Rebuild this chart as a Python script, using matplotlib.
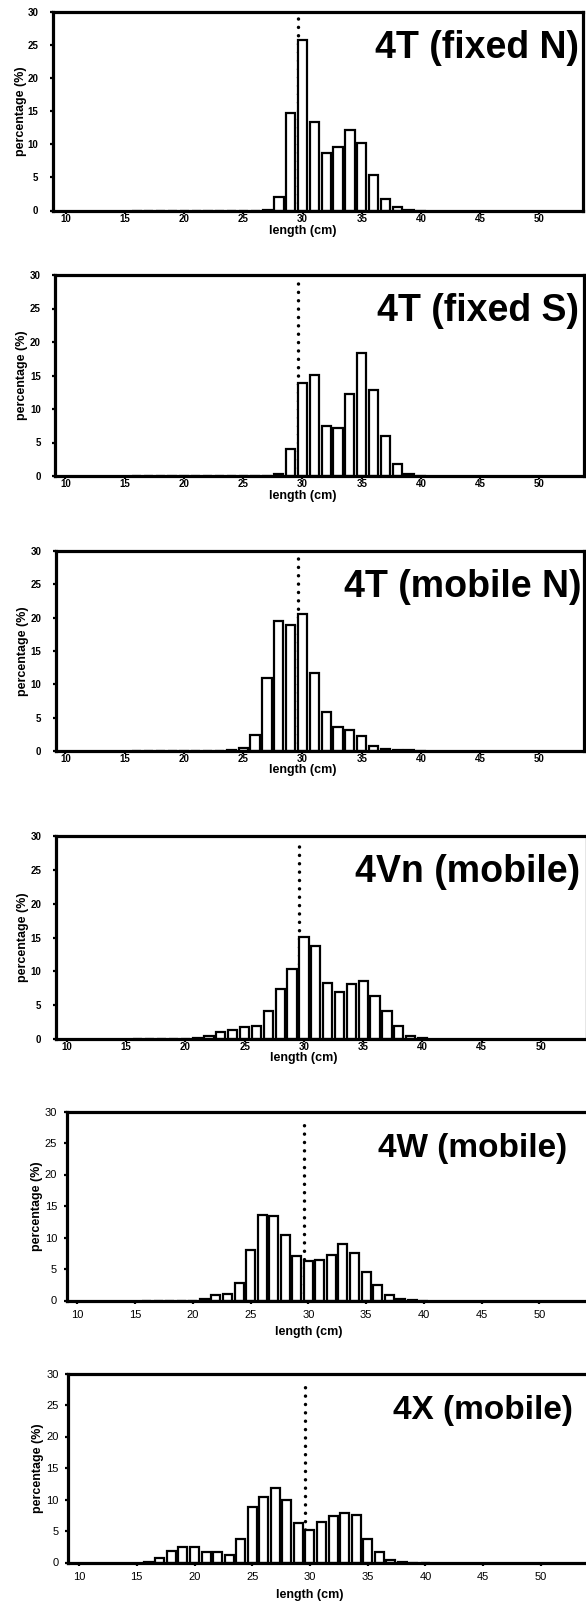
import matplotlib
matplotlib.use("Agg")
import matplotlib.pyplot as plt
from matplotlib.transforms import blended_transform_factory

plt.rcParams['font.family'] = ['Liberation Sans', 'DejaVu Sans']

# Length classes (cm) and percentage at length for each fleet / area
lengths = [16, 17, 18, 19, 20, 21, 22, 23, 24, 25, 26, 27, 28,
           29, 30, 31, 32, 33, 34, 35, 36, 37, 38, 39, 40]

pct_4t_fixed_n = [0, 0, 0, 0, 0, 0, 0, 0, 0, 0, 0, 0.1, 2.1,
                  14.7, 25.7, 13.3, 8.7, 9.5, 12.2, 10.2, 5.4, 1.8, 0.5, 0.1, 0]
pct_4t_fixed_s = [0, 0, 0, 0, 0, 0, 0, 0, 0, 0, 0, 0, 0.3,
                  4.1, 13.9, 15.1, 7.4, 7.1, 12.3, 18.4, 12.9, 6.0, 1.8, 0.3, 0]
pct_4t_mobile_n = [0, 0, 0, 0, 0, 0, 0, 0, 0.1, 0.5, 2.4, 10.9, 19.5,
                   18.9, 20.6, 11.7, 5.9, 3.6, 3.2, 2.3, 0.7, 0.3, 0.2, 0.1, 0]
pct_4vn_mobile = [0, 0, 0, 0, 0, 0.1, 0.5, 1.0, 1.4, 1.8, 1.9, 4.2, 7.4,
                  10.3, 15.1, 13.8, 8.3, 6.9, 8.2, 8.6, 6.4, 4.2, 1.9, 0.4, 0.1]
pct_4w_mobile = [0, 0, 0, 0, 0, 0.2, 0.8, 1.1, 2.8, 8.0, 13.6, 13.4, 10.4,
                 7.0, 6.2, 6.5, 7.3, 9.0, 7.6, 4.5, 2.4, 0.8, 0.3, 0.1, 0]
pct_4x_mobile = [0.1, 0.7, 1.8, 2.4, 2.4, 1.7, 1.6, 1.2, 3.8, 8.8, 10.4, 11.9, 10.0,
                 6.2, 5.2, 6.4, 7.4, 7.8, 7.5, 3.8, 1.7, 0.4, 0.1, 0, 0]

titles = ["4T (fixed N)", "4T (fixed S)", "4T (mobile N)",
          "4Vn (mobile)", "4W (mobile)", "4X (mobile)"]
series = [pct_4t_fixed_n, pct_4t_fixed_s, pct_4t_mobile_n,
          pct_4vn_mobile, pct_4w_mobile, pct_4x_mobile]

x_ticks = [10, 15, 20, 25, 30, 35, 40, 45, 50]
y_ticks = [0, 5, 10, 15, 20, 25, 30]
ref_length = 29.6

W, H, DPI = 586, 1604, 100

# Panel frames in pixels: left, right, top, bottom; plus x-limits
frames = [
    (53.0, 583.0, 11.5, 210.5, (8.9, 53.7)),
    (55.5, 584.0, 275.0, 476.0, (9.16, 53.76)),
    (56.0, 584.0, 551.0, 751.0, (9.2, 53.76)),
    (56.0, 586.5, 836.0, 1039.0, (9.1, 53.83)),
    (66.7, 592.0, 1111.5, 1300.5, (9.08, 54.56)),
    (68.3, 594.0, 1373.5, 1562.5, (9.07, 54.6)),
]
title_right = [579, 579, 581, 580, 567, 573]
title_size = [27, 27, 27, 27, 24, 24]
# layout style per panel: (tick font size, tick weight, x pad, y pad,
#                          x-label offset px, y-label offset px)
styles = [
    (7.0, 'bold', 0.0, 8.0, 20.5, 31.7),
    (7.0, 'bold', 0.0, 8.0, 20.0, 33.5),
    (7.0, 'bold', 0.0, 8.0, 18.5, 33.5),
    (7.0, 'bold', 0.0, 8.0, 18.5, 33.5),
    (8.0, 'normal', 4.0, 4.5, 31.5, 29.7),
    (8.0, 'normal', 4.0, 4.5, 32.5, 30.3),
]

fig = plt.figure(figsize=(W / DPI, H / DPI), dpi=DPI)
fig.patch.set_facecolor('white')

for title, values, (l, r, t, b, xlim), tr, tsz, st in zip(
        titles, series, frames, title_right, title_size, styles):
    fs, fw, xpad, ypad, xlab_off, ylab_off = st
    w_px, h_px = r - l, b - t
    ax = fig.add_axes([l / W, 1 - b / H, w_px / W, h_px / H])
    ax.set_xlim(*xlim)
    ax.set_ylim(0, 30)

    ax.vlines(ref_length, 0, 29, colors='black', linewidth=2.5,
              linestyles=(0, (0.01, 2.4)), zorder=1.5,
              capstyle='round')
    ax.bar(lengths, values, width=0.78, color='white', edgecolor='black',
           linewidth=1.6, zorder=2)

    for side in ('left', 'right', 'top', 'bottom'):
        ax.spines[side].set_linewidth(2.3)
        ax.spines[side].set_zorder(3)

    ax.set_xticks(x_ticks)
    ax.set_yticks(y_ticks)
    ax.tick_params(axis='both', direction='out', length=2.5, width=1.6,
                   labelsize=fs)
    ax.tick_params(axis='x', pad=xpad)
    ax.tick_params(axis='y', pad=ypad)
    for lab in ax.get_xticklabels() + ax.get_yticklabels():
        lab.set_fontweight(fw)

    ax.set_xlabel("length (cm)", fontsize=9, fontweight='bold')
    ax.xaxis.label.set_va('center')
    trans = blended_transform_factory(ax.transData, ax.transAxes)
    ax.xaxis.set_label_coords(30, -xlab_off / h_px, transform=trans)

    ax.set_ylabel("percentage (%)", fontsize=9, fontweight='bold')
    ax.yaxis.label.set_va('center')
    ax.yaxis.set_label_coords(-ylab_off / w_px, 0.5)

    ax.text((tr - l) / w_px, 1 - 46 / h_px, title, transform=ax.transAxes,
            ha='right', va='baseline', fontsize=tsz, fontweight='bold',
            zorder=4)

fig.savefig("out.png", dpi=DPI, facecolor='white')
